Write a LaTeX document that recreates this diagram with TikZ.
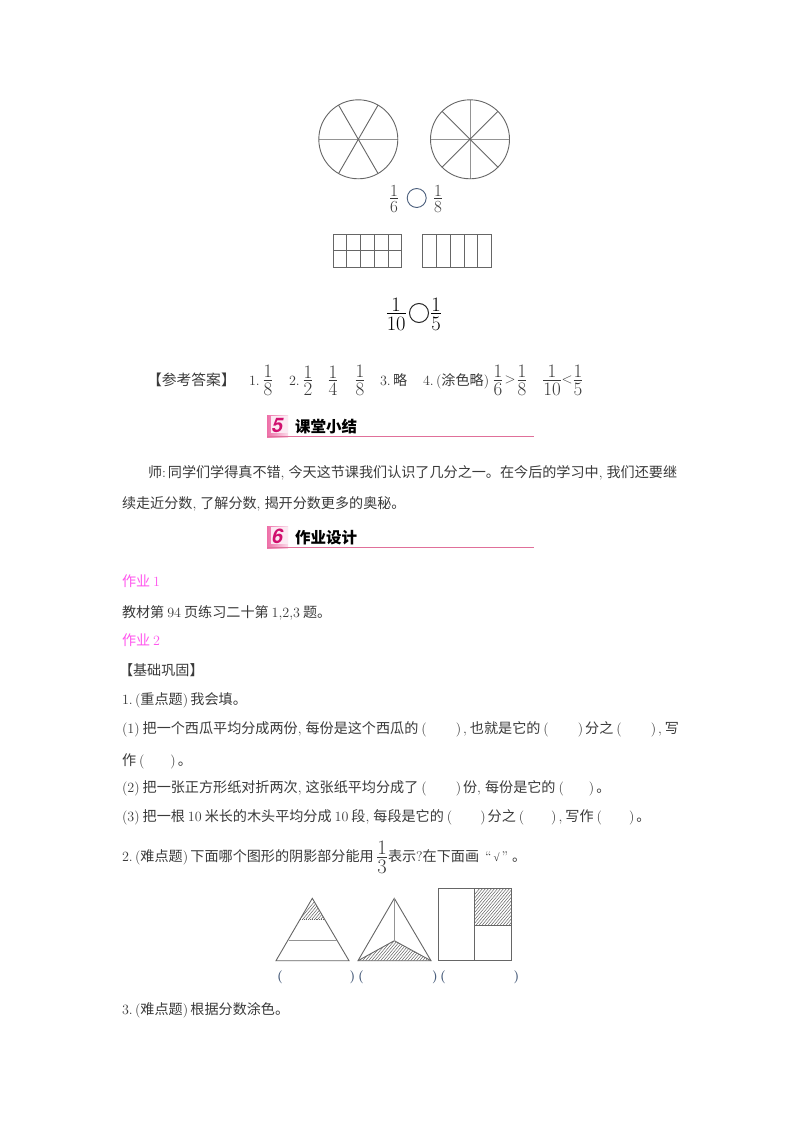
\documentclass[tikz,border=0pt]{standalone}
\usepackage{fontspec}
\newfontfamily\zhf{Noto Sans CJK SC}
\newfontfamily\hvf{TeX Gyre Heros}
\newfontfamily\lsf{Liberation Serif}
\newcommand\zh[1]{{\zhf #1}}
\newcommand\fr[2]{{\renewcommand\arraystretch{0}\begin{tabular}{@{}c@{}}\rule{0pt}{0.72em}#1\\[0.1em]\hline\rule{0pt}{0.8em}#2\end{tabular}}}
\newcommand\cmm{,\hspace{4pt}}
\newcommand\po{\hspace{3pt}(}
\newcommand\pc{)\hspace{2pt}}
\definecolor{ink}{HTML}{3A3A3A}
\definecolor{hotpink}{HTML}{FF55EE}
\definecolor{rulepink}{HTML}{E0709A}
\definecolor{badgepink}{HTML}{EE6FA8}
\definecolor{badgenum}{HTML}{D0106E}
\definecolor{linegray}{HTML}{666666}
\definecolor{paren}{HTML}{4A5E7C}
\tikzset{
  txt/.style={anchor=base west,inner sep=0pt,outer sep=0pt,text=ink,font=\fontsize{14.1}{14.1}\selectfont},
  pinktxt/.style={txt,text=hotpink},
  frc/.style={inner sep=0pt,outer sep=0pt,text=ink,font=\fontsize{19}{19}\selectfont},
  frcs/.style={frc,font=\fontsize{17}{17}\selectfont},
  frcb/.style={frc,font=\fontsize{20.5}{20.5}\selectfont,text=black},
  sym/.style={inner sep=0pt,outer sep=0pt,text=ink,font=\fontsize{15}{15}\selectfont},
  head/.style={anchor=base west,inner sep=0pt,outer sep=0pt,text=black,font=\fontsize{15.5}{15.5}\selectfont\bfseries},
  badgenumber/.style={inner sep=0pt,outer sep=0pt,text=badgenum,font=\fontsize{20}{20}\selectfont\hvf\bfseries\itshape},
  geo/.style={draw=linegray,line width=0.9pt},
  geol/.style={draw=linegray!70,line width=0.8pt},
  parenth/.style={inner sep=0pt,outer sep=0pt,text=paren,font=\fontsize{13}{13}\selectfont\bfseries},
}
\begin{document}
\begin{tikzpicture}[x=1pt,y=-1pt]
\useasboundingbox (0,0) rectangle (800,1132);
\fill[white] (0,0) rectangle (800,1132);
% circles
\coordinate (c1) at (358.3,139.3);
\coordinate (c2) at (470,139.3);
\draw[geol] (c1) ++(180:39.5) -- ++(0:79);
\foreach \a in {60,120}{\draw[geo] (c1) ++(\a:39.5) -- ++(\a+180:79);}
\draw[geo] (c1) circle[radius=39.5];
\draw[geol] (c2) ++(180:39.5) -- ++(0:79);
\draw[geol] (c2) ++(90:39.5) -- ++(270:79);
\foreach \a in {45,135}{\draw[geo] (c2) ++(\a:39.5) -- ++(\a+180:79);}
\draw[geo] (c2) circle[radius=39.5];
% compare 1
\node[frcs] (f16) at (394,198.5) {\fr16};
\node[draw=paren,circle,line width=0.9pt,minimum size=19pt,inner sep=0pt] (o1) at (416.7,198) {};
\node[frcs] (f18) at (438,198.5) {\fr18};
% grids
\draw[geo] (333,234) rectangle (401.7,267.3);
\foreach \i in {1,2,3,4}{\draw[geo] (333+13.74*\i,234) -- (333+13.74*\i,267.3);}
\draw[geo] (333,250.6) -- (401.7,250.6);
\draw[geo] (422.7,234) rectangle (491.7,267.3);
\foreach \i in {1,2,3,4}{\draw[geo] (422.7+13.8*\i,234) -- (422.7+13.8*\i,267.3);}
% compare 2
\node[frcb] (f110) at (396.2,313.5) {\fr1{10}};
\node[draw=black!85,circle,line width=1pt,minimum size=19pt,inner sep=0pt] (o2) at (419,313) {};
\node[frcb] (f15) at (436,313.5) {\fr15};
% answers
\node[txt] (a0) at (147,385) {\fontsize{14.8}{14.8}\selectfont\zh{【参考答案】}};
\node[txt] (a1) at (249,385) {1.};
\node[frc] (af1) at (268,380) {\fr18};
\node[txt] (a2) at (289,385) {2.};
\node[frc] (af2) at (308,380) {\fr12};
\node[frc] (af3) at (333,380) {\fr14};
\node[frc] (af4) at (360,380) {\fr18};
\node[txt] (a3) at (380,385) {3.\,\zh{略}};
\node[txt] (a4) at (423,385) {4.\,(\zh{涂色略})};
\node[frc] (af5) at (498,380) {\fr16};
\node[sym] (agt) at (510,380) {$>$};
\node[frc] (af6) at (522,380) {\fr18};
\node[frc] (af7) at (552,380) {\fr1{10}};
\node[sym] (alt) at (567,380) {$<$};
\node[frc] (af8) at (578,380) {\fr15};
% heading 5
\shade[left color=badgepink,right color=badgepink!25] (267,415) rectangle (288,437);
\fill[badgepink!15] (271,416) rectangle (287.5,433);
\node[badgenumber] (n5) at (277.5,425) {5};
\node[head] (h5) at (295,432.5) {\zh{课堂小结}};
\coordinate (r5a) at (267,436.7); \coordinate (r5b) at (534,436.7);
\draw[rulepink,line width=0.8pt] (r5a) -- (r5b);
% summary
\node[txt] (s1) at (148,477) {\zh{师}:\hspace{2pt}\zh{同学们学得真不错}\cmm\zh{今天这节课我们认识了几分之一。在今后的学习中}\cmm\zh{我们还要继}};
\node[txt] (s2) at (122,508) {\zh{续走近分数}\cmm\zh{了解分数}\cmm\zh{揭开分数更多的奥秘。}};
% heading 6
\shade[left color=badgepink,right color=badgepink!25] (267,526) rectangle (288,548);
\fill[badgepink!15] (271,527) rectangle (287.5,544);
\node[badgenumber] (n6) at (277.5,536) {6};
\node[head] (h6) at (295,543.5) {\zh{作业设计}};
\coordinate (r6a) at (267,547.7); \coordinate (r6b) at (534,547.7);
\draw[rulepink,line width=0.8pt] (r6a) -- (r6b);
% homework
\node[pinktxt] (w1) at (122,586) {\zh{作业}\hspace{3pt}1};
\node[txt] (w2) at (122,617) {\zh{教材第}\hspace{3pt}94\hspace{3pt}\zh{页练习二十第}\hspace{3pt}1,2,3\hspace{3pt}\zh{题。}};
\node[pinktxt] (w3) at (122,645) {\zh{作业}\hspace{3pt}2};
\node[txt] (w4) at (119,675) {\zh{【基础巩固】}};
\node[txt] (w5) at (122,704) {1.\,(\zh{重点题})\,\zh{我会填。}};
\node[txt] (w6) at (122,733) {(1)\hspace{3pt}\zh{把一个西瓜平均分成两份}\cmm\zh{每份是这个西瓜的}\po\hspace{29pt}\pc,\hspace{3pt}\zh{也就是它的}\po\hspace{29pt}\pc\zh{分之}\po\hspace{29pt}\pc,\hspace{3pt}\zh{写}};
\node[txt] (w7) at (122,765) {\zh{作}\po\hspace{26pt}\pc\zh{。}};
\node[txt] (w8) at (122,792) {(2)\hspace{3pt}\zh{把一张正方形纸对折两次}\cmm\zh{这张纸平均分成了}\po\hspace{29pt}\pc\zh{份}\cmm\zh{每份是它的}\po\hspace{25pt}\pc\zh{。}};
\node[txt] (w9) at (122,821) {(3)\hspace{3pt}\zh{把一根}\hspace{3pt}10\hspace{3pt}\zh{米长的木头平均分成}\hspace{3pt}10\hspace{3pt}\zh{段}\cmm\zh{每段是它的}\po\hspace{28pt}\pc\zh{分之}\po\hspace{27pt}\pc,\hspace{3pt}\zh{写作}\po\hspace{27pt}\pc\zh{。}};
\node[txt] (w10) at (122,861) {2.\,(\zh{难点题})\,\zh{下面哪个图形的阴影部分能用}};
\node[frcb,text=ink] (w11) at (382,857) {\fr13};
\node[txt] (w12) at (388,861) {\zh{表示}?\zh{在下面画}\hspace{6pt}“\hspace{2pt}{\lsf\fontsize{11}{11}\selectfont √}\hspace{2pt}”\hspace{4pt}\zh{。}};
% triangle 1
\coordinate (t1a) at (312.3,898.3); \coordinate (t1l) at (276,960.7); \coordinate (t1r) at (349,960.7);
\begin{scope}
\clip (t1a) -- (300.3,919.3) -- (324.3,919.3) -- cycle;
\foreach \k in {0,...,16}{\draw[linegray,line width=0.5pt] (295+3*\k,925) -- ++(25,-30);}
\end{scope}
\draw[geo] (t1a) -- (t1l) -- (t1r) -- cycle;
\draw[geo,densely dotted] (300.3,919.3) -- (324.3,919.3);
\draw[geol] (288.5,940) -- (336.5,940);
% triangle 2
\coordinate (t2a) at (394.3,898.3); \coordinate (t2l) at (358,960.7); \coordinate (t2r) at (431,960.7); \coordinate (t2c) at (394.3,940.7);
\begin{scope}
\clip (t2l) -- (t2c) -- (t2r) -- cycle;
\foreach \k in {0,...,32}{\draw[linegray,line width=0.5pt] (335+3*\k,965) -- ++(25,-30);}
\end{scope}
\draw[geo] (t2a) -- (t2l) -- (t2r) -- cycle;
\draw[geo] (t2l) -- (t2c) -- (t2r);
\draw[geol] (t2a) -- (t2c);
% square
\begin{scope}
\clip (474.7,888.3) rectangle (511.7,925);
\foreach \k in {0,...,30}{\draw[linegray,line width=0.5pt] (445+3*\k,930) -- ++(40,-48);}
\end{scope}
\draw[geo] (438.3,888.3) rectangle (511.7,960.7);
\draw[geo] (474.7,888.3) -- (474.7,960.7);
\draw[geo] (474.7,925) -- (511.7,925);
% parentheses
\node[parenth] (p1) at (280,977) {(};
\node[parenth] (p2) at (352.5,977) {)};
\node[parenth] (p3) at (361,977) {(};
\node[parenth] (p4) at (435,977) {)};
\node[parenth] (p5) at (443,977) {(};
\node[parenth] (p6) at (516.5,977) {)};
\node[txt] (w13) at (122,1014) {3.\,(\zh{难点题})\,\zh{根据分数涂色。}};
\end{tikzpicture}
\end{document}
